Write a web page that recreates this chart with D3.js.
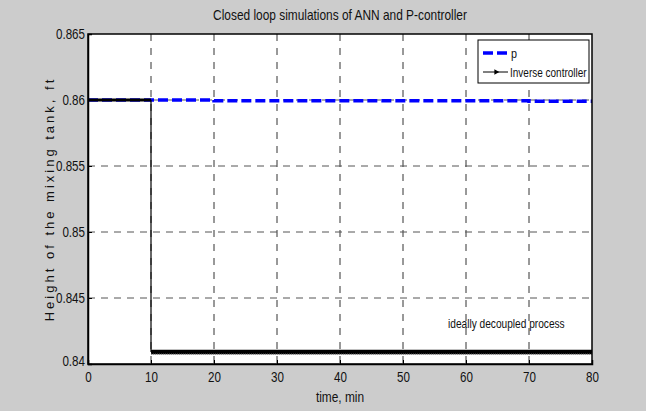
<!DOCTYPE html>
<html>
<head>
<meta charset="utf-8">
<script src="https://cdn.jsdelivr.net/npm/d3@7"></script>
<style>
  body { margin: 0; background: #cccccc; }
  text { font-family: "Liberation Sans", Arial, sans-serif; fill: #111; }
</style>
</head>
<body>
<svg id="chart"></svg>
<script>
// valeurs
const xTicks = [0, 10, 20, 30, 40, 50, 60, 70, 80];
const yTicks = [0.84, 0.845, 0.85, 0.855, 0.86, 0.865];

// serie "p" (controleur P)
const pTime = [0, 10, 20, 20, 70, 70, 80];
const pHeight = [0.86, 0.86, 0.86, 0.85995, 0.85995, 0.8599, 0.8599];

// serie "Inverse controller"
const invTime = [0, 10, 10, 80];
const invHeight = [0.86, 0.86, 0.8409, 0.8409];

var width = 646,
    height = 411;
var margin = {top: 34, right: 54, bottom: 47, left: 88};

const svg = d3.select("#chart")
  .attr("width", width)
  .attr("height", height);

svg.append("rect")
  .attr("width", width).attr("height", height)
  .attr("fill", "#cccccc");

const x = d3.scaleLinear().domain([0, 80]).range([margin.left, width - margin.right]);
const y = d3.scaleLinear().domain([0.84, 0.865]).range([height - margin.bottom, margin.top]);

// police etroite (type Helvetica Narrow) : on compresse le texte
function condense(sel, f) {
  sel.each(function () {
    const len = this.getComputedTextLength();
    d3.select(this).attr("textLength", len * f).attr("lengthAdjust", "spacingAndGlyphs");
  });
}

// zone du graphe
svg.append("rect")
  .attr("x", x(0)).attr("y", y(0.865))
  .attr("width", x(80) - x(0)).attr("height", y(0.84) - y(0.865))
  .attr("fill", "white");

// grille
const grid = svg.append("g");
grid.selectAll(".vg")
  .data(xTicks.slice(1, -1))
  .join("line")
  .attr("x1", d => x(d)).attr("x2", d => x(d))
  .attr("y1", y(0.865)).attr("y2", y(0.84))
  .attr("stroke", "#333").attr("stroke-width", 1)
  .attr("stroke-dasharray", "7,7");
grid.selectAll(".hg")
  .data(yTicks.slice(1, -1))
  .join("line")
  .attr("y1", d => y(d)).attr("y2", d => y(d))
  .attr("x1", x(0)).attr("x2", x(80))
  .attr("stroke", "#555").attr("stroke-width", 1)
  .attr("stroke-dasharray", "7,6");

const line = d3.line().x(d => x(d[0])).y(d => y(d[1]));

// courbe p
svg.append("path")
  .datum(d3.zip(pTime, pHeight))
  .attr("d", line)
  .attr("fill", "none")
  .attr("stroke", "#0000ff")
  .attr("stroke-width", 3.5)
  .attr("stroke-dasharray", "10,4");

// courbe inverse controller
const inv = d3.zip(invTime, invHeight);
svg.append("path")
  .datum(inv.slice(0, 2))
  .attr("d", line)
  .attr("fill", "none").attr("stroke", "black").attr("stroke-width", 3);
svg.append("path")
  .datum(inv.slice(1, 3))
  .attr("d", line)
  .attr("fill", "none").attr("stroke", "black").attr("stroke-width", 1.2);
svg.append("path")
  .datum(inv.slice(2))
  .attr("d", line)
  .attr("fill", "none").attr("stroke", "black").attr("stroke-width", 4.5);
svg.append("path")
  .datum(inv.slice(2))
  .attr("d", line)
  .attr("transform", "translate(0,2)")
  .attr("fill", "none").attr("stroke", "#777").attr("stroke-width", 1)
  .attr("stroke-dasharray", "1,1");

// axes
const xAxis = svg.append("g")
  .attr("transform", `translate(0,${y(0.84)})`)
  .call(d3.axisBottom(x).tickValues(xTicks).tickSize(-4).tickPadding(8));
const yAxis = svg.append("g")
  .attr("transform", `translate(${x(0)},0)`)
  .call(d3.axisLeft(y).tickValues(yTicks).tickSize(-4).tickPadding(3)
    .tickFormat(d => String(+d.toFixed(3))));
// cadre du haut et de droite
svg.append("rect")
  .attr("x", x(0)).attr("y", y(0.865))
  .attr("width", x(80) - x(0)).attr("height", y(0.84) - y(0.865))
  .attr("fill", "none").attr("stroke", "black").attr("stroke-width", 1.5);

[xAxis, yAxis].forEach(a => {
  a.select(".domain").attr("stroke", "black").attr("stroke-width", 1.5);
  a.selectAll("text").style("font-size", "14.5px").attr("fill", "#111").call(condense, 0.8);
});
// 0.84 un peu plus haut pour ne pas toucher le 0
yAxis.selectAll(".tick").filter(d => d === 0.84).select("text").attr("dy", "0.1em");

// textes
svg.append("text")
  .attr("x", (x(0) + x(80)) / 2).attr("y", 20)
  .attr("text-anchor", "middle")
  .style("font-size", "14.5px")
  .text("Closed loop simulations of ANN and P-controller")
  .call(condense, 0.82);

svg.append("text")
  .attr("x", (x(0) + x(80)) / 2).attr("y", 402)
  .attr("text-anchor", "middle")
  .style("font-size", "14.5px")
  .text("time, min")
  .call(condense, 0.82);

svg.append("text")
  .attr("transform", `translate(54,${(y(0.84) + y(0.865)) / 2}) rotate(-90)`)
  .attr("text-anchor", "middle")
  .style("font-size", "13px")
  .style("letter-spacing", "3px")
  .text("Height of the mixing tank, ft");

svg.append("text")
  .attr("x", 448).attr("y", 328)
  .style("font-size", "13px")
  .text("ideally decoupled process")
  .call(condense, 0.78);

// legende
const leg = svg.append("g");
leg.append("rect")
  .attr("x", 478).attr("y", 40).attr("width", 111).attr("height", 43)
  .attr("fill", "white").attr("stroke", "black").attr("stroke-width", 1);
leg.append("line")
  .attr("x1", 483).attr("x2", 507).attr("y1", 53).attr("y2", 53)
  .attr("stroke", "#0000ff").attr("stroke-width", 3.5).attr("stroke-dasharray", "10,4");
leg.append("text").attr("x", 511).attr("y", 58).style("font-size", "13.5px").text("p")
  .call(condense, 0.8);
leg.append("line")
  .attr("x1", 483).attr("x2", 508).attr("y1", 72).attr("y2", 72)
  .attr("stroke", "black").attr("stroke-width", 1);
leg.append("path")
  .attr("d", d3.symbol(d3.symbolTriangle, 14)())
  .attr("transform", "translate(496,72) rotate(90)")
  .attr("fill", "black");
leg.append("text").attr("x", 510).attr("y", 77).style("font-size", "13.5px").text("Inverse controller")
  .call(condense, 0.74);
</script>
</body>
</html>
